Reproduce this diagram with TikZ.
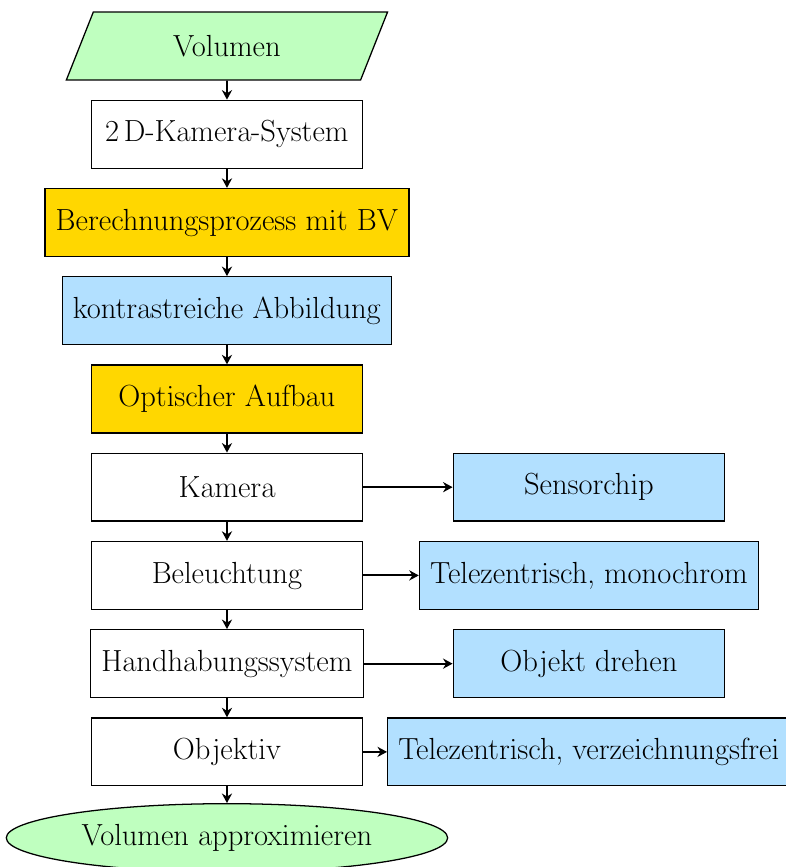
\documentclass[tikz,border=0pt]{standalone}
\usetikzlibrary{shapes.geometric, arrows.meta, positioning}
\definecolor{startgreen}{RGB}{191,255,191}
\definecolor{procyellow}{RGB}{255,215,0}
\definecolor{infoblue}{RGB}{178,224,255}
\font\flowrm=cmr17 at 9.6pt

\begin{document}
\begin{tikzpicture}[
    font=\flowrm,
    io/.style={trapezium, trapezium left angle=73, trapezium right angle=107, trapezium stretches=true, draw, fill=startgreen, minimum width=3.56cm, minimum height=0.75cm},
    block/.style={rectangle, draw, fill=white, minimum width=3cm, minimum height=0.75cm, align=center},
    calc/.style={block, fill=procyellow},
    detail/.style={block, fill=infoblue},
    terminal/.style={ellipse, draw, fill=startgreen},
    arrow/.style={-{Stealth[length=3pt, width=3.2pt]}, semithick},
]
\useasboundingbox (-2.508,0.508) rectangle (6.166,-9.072);

% Input
\node[io] (volumen) at (0,0) {Volumen};

% Main chain
\node[block] (kamsys) at (0,-0.975) {2\,D-Kamera-System};
\node[calc] (berech) at (0,-1.95) {Berechnungsprozess mit BV};
\node[detail] (kontrast) at (0,-2.925) {kontrastreiche Abbildung};
\node[calc] (aufbau) at (0,-3.9) {Optischer Aufbau};
\node[block] (kamera) at (0,-4.875) {Kamera};
\node[block] (licht) at (0,-5.85) {Beleuchtung};
\node[block] (handling) at (0,-6.825) {Handhabungssystem};
\node[block] (objektiv) at (0,-7.8) {Objektiv};

% Output
\node[terminal] (approx) at (0,-8.75) {Volumen approximieren};

% Component details
\node[detail] (sensor) at (4,-4.875) {Sensorchip};
\node[detail] (lichtart) at (4,-5.85) {Telezentrisch, monochrom};
\node[detail] (drehen) at (4,-6.825) {Objekt drehen};
\node[detail] (optik) at (4,-7.8) {Telezentrisch, verzeichnungsfrei};

% Arrows
\draw[arrow] (volumen) -- (kamsys);
\draw[arrow] (kamsys) -- (berech);
\draw[arrow] (berech) -- (kontrast);
\draw[arrow] (kontrast) -- (aufbau);
\draw[arrow] (aufbau) -- (kamera);
\draw[arrow] (kamera) -- (licht);
\draw[arrow] (licht) -- (handling);
\draw[arrow] (handling) -- (objektiv);
\draw[arrow] (objektiv) -- (approx);
\draw[arrow] (kamera) -- (sensor);
\draw[arrow] (licht) -- (lichtart);
\draw[arrow] (handling) -- (drehen);
\draw[arrow] (objektiv) -- (optik);

\end{tikzpicture}
\end{document}
